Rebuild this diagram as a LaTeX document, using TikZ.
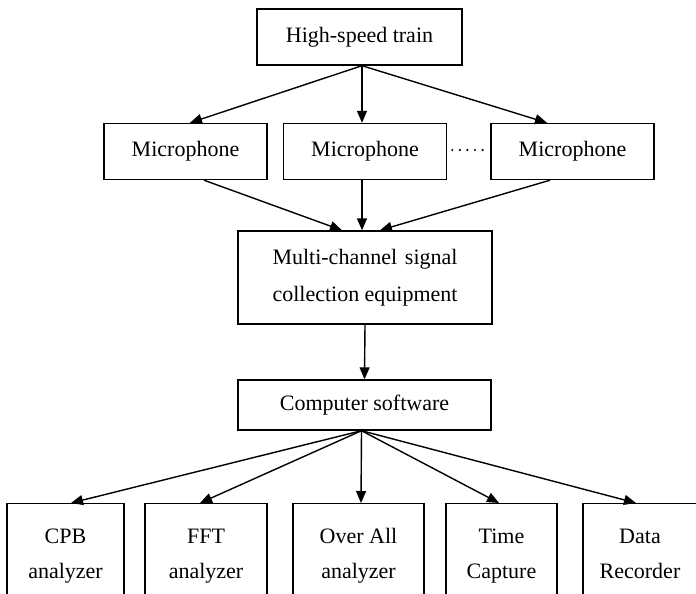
\documentclass[tikz,border=0pt]{standalone}
\usepackage{fontspec}
\setmainfont{Liberation Serif}
\usetikzlibrary{arrows.meta}
\begin{document}
\begin{tikzpicture}[x=0.5pt,y=-0.5pt,
 box/.style={draw,line width=0.7pt,inner sep=0pt,align=center,font=\fontsize{11}{17.5}\selectfont},
 arr/.style={-{Triangle[length=6pt,width=5pt]},line width=0.7pt}]
\useasboundingbox (0,0) rectangle (696,594);
\clip (0,0) rectangle (696,594);
\node[box,minimum width=102.5pt,minimum height=28pt] (train) at (359.5,37) {High-speed train};
\node[box,minimum width=81.5pt,minimum height=28pt] (m1) at (185.5,151.5) {Microphone};
\node[box,minimum width=81.5pt,minimum height=28pt] (m2) at (365,151.5) {Microphone};
\node[box,minimum width=81.5pt,minimum height=28pt] (m3) at (572.5,151.5) {Microphone};
\node[box,minimum width=127pt,minimum height=46.5pt,font=\fontsize{11}{18.5}\selectfont] (multi) at (365,277.5)
  {\makebox[92.5pt][s]{Multi-channel signal}\\\makebox[92.5pt][s]{collection equipment}};
\node[box,minimum width=126.5pt,minimum height=25pt] (comp) at (364.5,405) {Computer software};
\node[box,anchor=north,minimum width=58.5pt,minimum height=50pt] (cpb) at (65.5,503) {CPB\strut\\analyzer\strut};
\node[box,anchor=north,minimum width=61pt,minimum height=50pt] (fft) at (206,503) {FFT\strut\\analyzer\strut};
\node[box,anchor=north,minimum width=65.5pt,minimum height=50pt] (over) at (358.5,503) {Over All\strut\\analyzer\strut};
\node[box,anchor=north,minimum width=55.5pt,minimum height=50pt] (time) at (501.5,503) {Time\strut\\Capture\strut};
\node[box,anchor=north,minimum width=57pt,minimum height=50pt] (data) at (640,503) {Data\strut\\Recorder\strut};
\draw[arr] ([xshift=1.25pt]train.south) -- ([xshift=2.25pt]m1.north);
\draw[arr] ([xshift=1.25pt]train.south) -- ([xshift=-1.5pt]m2.north);
\draw[arr] ([xshift=1.25pt]train.south) -- ([xshift=-12.75pt]m3.north);
\draw[line width=1.2pt,line cap=round,dash pattern=on 0pt off 3.8pt] ([xshift=2.5pt,yshift=0.75pt]m2.east) -- ([xshift=-3.5pt,yshift=0.75pt]m3.west);
\draw[arr] ([xshift=9.25pt]m1.south) -- ([xshift=-11.5pt]multi.north);
\draw[arr] ([xshift=-1.5pt]m2.south) -- ([xshift=-1.5pt]multi.north);
\draw[arr] ([xshift=-11.25pt]m3.south) -- ([xshift=7.5pt]multi.north);
\draw[arr] (multi.south) -- (comp.north);
\draw[arr] ([xshift=-1.5pt]comp.south) -- ([xshift=2.75pt]cpb.north);
\draw[arr] ([xshift=-1.5pt]comp.south) -- ([xshift=-3pt]fft.north);
\draw[arr] ([xshift=-1.5pt]comp.south) -- ([xshift=1.25pt]over.north);
\draw[arr] ([xshift=-1.5pt]comp.south) -- ([xshift=-1.25pt]time.north);
\draw[arr] ([xshift=-1.5pt]comp.south) -- ([xshift=-2pt]data.north);
\end{tikzpicture}
\end{document}
